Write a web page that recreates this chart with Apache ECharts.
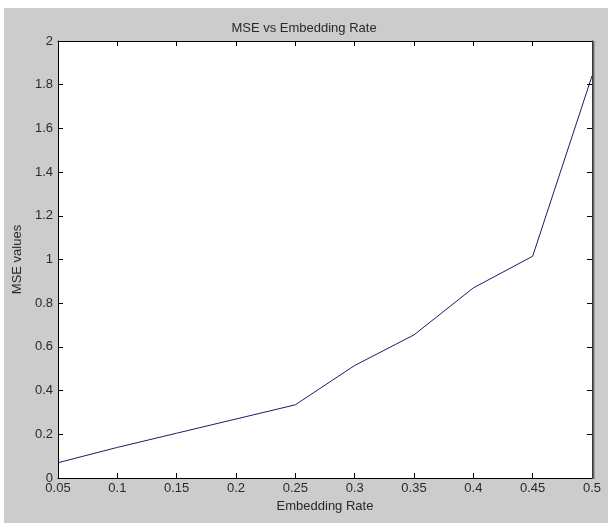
<!DOCTYPE html>
<html>
<head>
<meta charset="utf-8">
<script src="https://cdn.jsdelivr.net/npm/echarts@6/dist/echarts.min.js"></script>
<style>html,body{margin:0;padding:0;background:#fff}#c{width:608px;height:523px}</style>
</head>
<body>
<div id="c"></div>
<script>
const embeddingRates = [0.05, 0.1, 0.15, 0.2, 0.25, 0.3, 0.35, 0.4, 0.45, 0.5];
const mseValues = [0.07, 0.14, 0.205, 0.27, 0.335, 0.515, 0.655, 0.87, 1.015, 1.84];
const xTicks = [0.05, 0.1, 0.15, 0.2, 0.25, 0.3, 0.35, 0.4, 0.45, 0.5];
const yTicks = [0, 0.2, 0.4, 0.6, 0.8, 1, 1.2, 1.4, 1.6, 1.8, 2];

const chart = echarts.init(document.getElementById('c'), null, {renderer: 'canvas'});
const font = 'Liberation Sans, Arial, sans-serif';
const lbl = {color: '#2a2a2a', fontSize: 13, fontFamily: font};
const G = {left: 58, right: 16, top: 41, bottom: 45};
const tickStyle = {show: true, inside: true, length: 5, lineStyle: {color: '#000', width: 1}};
const lineSt = {show: true, onZero: false, lineStyle: {color: '#000', width: 1}};
chart.setOption({
  backgroundColor: '#ffffff',
  animation: false,
  graphic: [
    {type: 'rect', z: -10, shape: {x: 4, y: 8, width: 604, height: 515}, style: {fill: '#cccccc'}},
    {type: 'line', z: 100, shape: {x1: 593.5, y1: 41, x2: 593.5, y2: 479}, style: {stroke: '#6a6a6a', lineWidth: 2}}
  ],
  title: {text: 'MSE vs Embedding Rate', left: 'center', top: 17,
    textStyle: {fontFamily: font, fontSize: 13, fontWeight: 'normal', color: '#2a2a2a'}},
  grid: {left: G.left, right: G.right, top: G.top, bottom: G.bottom, show: true, backgroundColor: '#fff', borderWidth: 0},
  xAxis: [
    {type: 'value', min: 0.05, max: 0.5, interval: 0.05, position: 'bottom',
     name: 'Embedding Rate', nameLocation: 'middle', nameGap: 22,
     nameTextStyle: {fontFamily: font, fontSize: 13, color: '#2a2a2a'},
     axisLine: lineSt, axisTick: tickStyle, splitLine: {show: false},
     axisLabel: Object.assign({margin: 4, formatter: v => { const m = xTicks.find(t => Math.abs(t - v) < 1e-9); return m === undefined ? '' : String(m); }}, lbl)},
    {type: 'value', min: 0.05, max: 0.5, interval: 0.05, position: 'top',
     axisLine: lineSt, axisTick: tickStyle, splitLine: {show: false}, axisLabel: {show: false}}
  ],
  yAxis: [
    {type: 'value', min: 0, max: 2, interval: 0.2, position: 'left',
     name: 'MSE values', nameLocation: 'middle', nameGap: 33, nameRotate: 90,
     nameTextStyle: {fontFamily: font, fontSize: 13, color: '#2a2a2a'},
     axisLine: lineSt, axisTick: tickStyle, splitLine: {show: false},
     axisLabel: Object.assign({margin: 5, formatter: v => { const m = yTicks.find(t => Math.abs(t - v) < 1e-9); return m === undefined ? '' : String(m); }}, lbl)},
    {type: 'value', min: 0, max: 2, interval: 0.2, position: 'right',
     axisLine: lineSt, axisTick: tickStyle, splitLine: {show: false}, axisLabel: {show: false}}
  ],
  series: [{
    type: 'line', xAxisIndex: 0, yAxisIndex: 0,
    data: embeddingRates.map((x, i) => [x, mseValues[i]]),
    showSymbol: false, symbol: 'none',
    lineStyle: {color: '#1c1c6a', width: 1}
  }]
});
</script>
</body>
</html>
